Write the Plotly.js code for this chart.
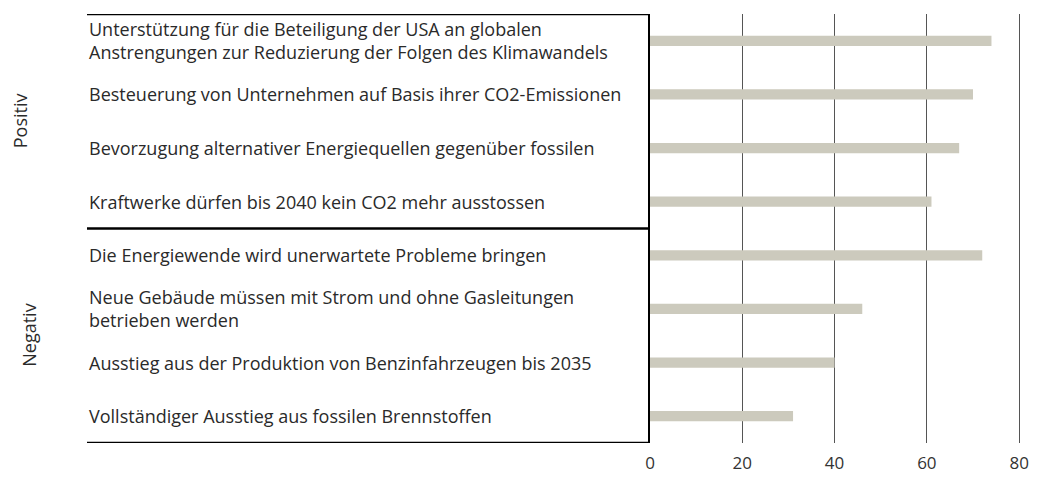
<!DOCTYPE html>
<html>
<head>
<meta charset="utf-8">
<script src="https://cdn.plot.ly/plotly-3.0.1.min.js"></script>
<style>html,body{margin:0;padding:0;background:#fff;}#chart{width:1044px;height:477px;}</style>
</head>
<body>
<div id="chart"></div>
<script>
const categories = [
  "Unterstützung für die Beteiligung der USA an globalen<br>Anstrengungen zur Reduzierung der Folgen des Klimawandels",
  "Besteuerung von Unternehmen auf Basis ihrer CO2-Emissionen",
  "Bevorzugung alternativer Energiequellen gegenüber fossilen",
  "Kraftwerke dürfen bis 2040 kein CO2 mehr ausstossen",
  "Die Energiewende wird unerwartete Probleme bringen",
  "Neue Gebäude müssen mit Strom und ohne Gasleitungen<br>betrieben werden",
  "Ausstieg aus der Produktion von Benzinfahrzeugen bis 2035",
  "Vollständiger Ausstieg aus fossilen Brennstoffen"
];
const values = [74, 70, 67, 61, 72, 46, 40, 31];
const groups = ["Positiv", "Negativ"];
const groupCenters = [1.5, 5.5];
const groupBounds = [-0.5, 3.5, 7.5];
const tickValues = [0, 20, 40, 60, 80];

const FONT = "Open Sans, Noto Sans, sans-serif";
const PW = 383;
const px = v => (v - 650) / PW;

const annotations = categories.map((c, i) => ({
  xref: "paper", yref: "y", x: px(86.5), y: i,
  text: c, showarrow: false, xanchor: "left", yanchor: "middle", align: "left",
  font: {family: FONT, size: 18, color: "#2a2a2a"}
}));
const groupX = [px(20), px(29)];
groups.forEach((g, i) => annotations.push({
  xref: "paper", yref: "y", x: groupX[i], y: groupCenters[i],
  text: g, showarrow: false, textangle: -90, xanchor: "center", yanchor: "middle",
  font: {family: FONT, size: 18, color: "#2a2a2a"}
}));

const shapes = groupBounds.map(b => ({
  type: "line", xref: "paper", yref: "y", x0: px(87), x1: 0, y0: b, y1: b,
  line: {color: "#000", width: 2.5}
}));

const data = [{
  type: "bar", orientation: "h",
  x: values, y: categories.map((c, i) => i),
  marker: {color: "#cccabd"},
  hoverinfo: "x"
}];

const layout = {
  width: 1044, height: 477,
  margin: {l: 650, r: 11, t: 14, b: 34},
  paper_bgcolor: "#fff", plot_bgcolor: "#fff",
  showlegend: false,
  bargap: 0.81,
  xaxis: {
    range: [0, 83], tickvals: tickValues, ticktext: tickValues.map(String),
    showgrid: true, gridcolor: "#555", gridwidth: 1,
    zeroline: false, showline: false, ticks: "", ticklabelstandoff: 8,
    tickfont: {family: FONT, size: 17, color: "#333"}
  },
  yaxis: {
    range: [7.5, -0.5], showticklabels: false, showgrid: false, zeroline: false,
    showline: true, linecolor: "#000", linewidth: 2.5, ticks: ""
  },
  annotations: annotations,
  shapes: shapes
};

Plotly.newPlot("chart", data, layout, {staticPlot: true});
</script>
</body>
</html>
